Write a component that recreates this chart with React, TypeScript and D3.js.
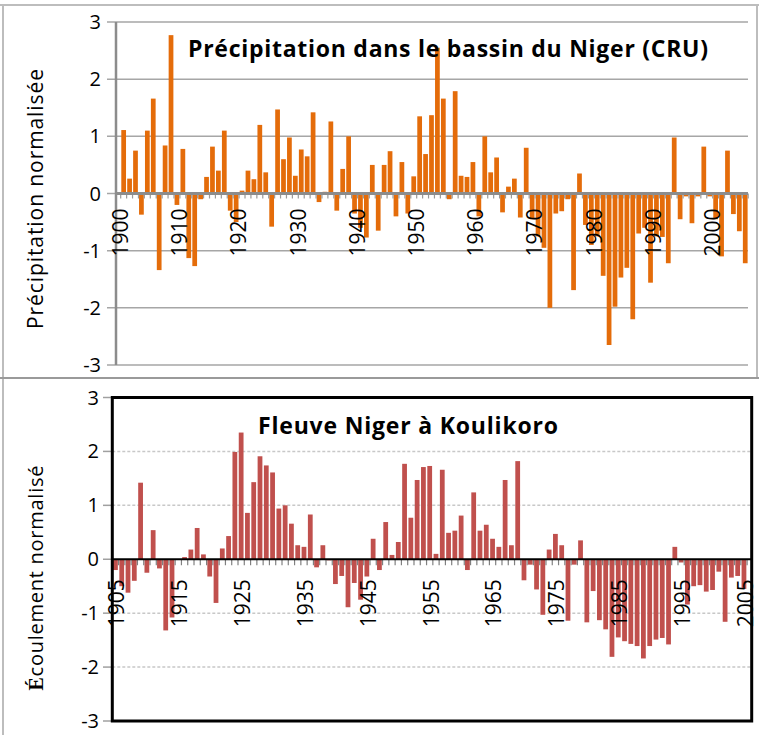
import React from 'react';
import * as d3 from 'd3';

// ---------- DATA ----------
const precipStartYear = 1900;
const precipValues = [
  1.11, 0.26, 0.75, -0.37, 1.10, 1.66, -1.34, 0.84, 2.77, -0.2,
  0.78, -1.13, -1.27, -0.1, 0.29, 0.82, 0.40, 1.10, -0.3, -0.5,
  0.05, 0.40, 0.25, 1.20, 0.37, -0.58, 1.47, 0.60, 0.98, 0.31,
  0.77, 0.65, 1.42, -0.15, 0.03, 1.26, -0.3, 0.43, 1.0, -0.35,
  -0.6, -0.77, 0.5, -0.65, 0.5, 0.74, -0.4, 0.55, -0.35, 0.3,
  1.35, 0.69, 1.37, 2.55, 1.66, -0.1, 1.79, 0.31, 0.29, 0.55,
  -0.4, 1.0, 0.37, 0.63, -0.33, 0.12, 0.26, -0.42, 0.8, -0.45,
  -0.75, -0.95, -2.0, -0.35, -0.31, -0.1, -1.69, 0.35, -0.55, -0.9,
  -0.75, -1.44, -2.65, -1.98, -1.47, -1.3, -2.2, -0.7, -0.6, -1.56,
  -0.75, -0.76, -1.22, 0.98, -0.45, -0.05, -0.52, -0.05, 0.82, -0.05,
  -0.45, -1.1, 0.75, -0.36, -0.66, -1.22,
];
const precipTickYears = [1900, 1910, 1920, 1930, 1940, 1950, 1960, 1970, 1980, 1990, 2000];

const flowStartYear = 1905;
const flowValues = [
  -0.2, -0.5, -0.62, -0.4, 1.42, -0.25, 0.54, -0.17, -1.32, -1.08,
  0.0, 0.04, 0.18, 0.58, 0.09, -0.32, -0.81, 0.2, 0.43, 1.99,
  2.35, 0.86, 1.43, 1.91, 1.74, 1.61, 0.94, 1.0, 0.66, 0.26,
  0.23, 0.83, -0.15, 0.26, -0.02, -0.46, -0.31, -0.89, -0.44, -0.75,
  -0.32, 0.38, -0.2, 0.69, 0.08, 0.32, 1.77, 0.77, 1.47, 1.71,
  1.73, 0.1, 1.66, 0.49, 0.53, 0.81, -0.2, 1.24, 0.53, 0.64,
  0.38, 0.23, 1.47, 0.26, 1.82, -0.39, -0.1, -0.56, -1.03, 0.18,
  0.47, 0.26, -1.14, -0.1, 0.35, -1.17, -0.59, -1.13, -1.3, -1.81,
  -1.45, -1.52, -1.57, -1.61, -1.84, -1.61, -1.49, -1.46, -1.58, 0.23,
  -0.06, -0.84, -0.5, -0.48, -0.6, -0.57, -0.23, -1.16, -0.34, -0.31,
  -0.55,
];
const flowTickYears = [1905, 1915, 1925, 1935, 1945, 1955, 1965, 1975, 1985, 1995, 2005];

const yTickValues = [3, 2, 1, 0, -1, -2, -3];

const topTitle = 'Précipitation dans le bassin du Niger (CRU)';
const topYTitle = 'Précipitation normalisée';
const bottomTitle = 'Fleuve Niger à Koulikoro';
const bottomYTitleFirst = 'É';
const bottomYTitleRest = 'coulement normalisé';

const FONT = "'Open Sans', 'Liberation Sans', sans-serif";

export default function App() {
  const W = 759;
  const H = 735;

  // ---- top chart scales ----
  const precipYears = precipValues.map((_, i) => precipStartYear + i);
  const xTop = d3.scaleBand<number>().domain(precipYears).range([120.7, 748.2]).padding(0);
  const yTop = d3.scaleLinear().domain([-3, 3]).range([365, 22]);
  const stepTop = xTop.step();

  // ---- bottom chart scales ----
  const flowYears = flowValues.map((_, i) => flowStartYear + i);
  const xBot = d3.scaleBand<number>().domain(flowYears).range([112.3, 747.1]).padding(0);
  const yBot = d3.scaleLinear().domain([-3, 3]).range([721, 397.5]);
  const stepBot = xBot.step();

  const frameLeft = 112.3;
  const frameRight = 751.7;

  return (
    <svg
      width={W}
      height={H}
      viewBox={`0 0 ${W} ${H}`}
      style={{ position: 'absolute', left: 0, top: 0, background: '#fff' }}
      fontFamily={FONT}
    >
      <rect x={0} y={0} width={W} height={H} fill="#fff" />
      {/* outer panel lines */}
      <line x1={0} x2={W} y1={5} y2={5} stroke="#bdbdbd" strokeWidth={2} />
      <line x1={3} x2={3} y1={5} y2={H} stroke="#bdbdbd" strokeWidth={2} />
      <line x1={757} x2={757} y1={5} y2={378} stroke="#bdbdbd" strokeWidth={2} />
      <line x1={0} x2={W} y1={378} y2={378} stroke="#9a9a9a" strokeWidth={2} />

      {/* ================= TOP CHART ================= */}
      {yTickValues.map((t) => (
        <line key={'tg' + t} x1={107} x2={748} y1={yTop(t)} y2={yTop(t)} stroke="#a6a6a6" strokeWidth={1.5} />
      ))}
      {yTickValues.map((t) => (
        <text key={'tl' + t} x={101} y={yTop(t)} dy="0.35em" textAnchor="end" fontSize={20} fill="#000">
          {t}
        </text>
      ))}
      {precipValues.map((v, i) => {
        const yr = precipYears[i];
        const y0 = yTop(0);
        const y1 = yTop(v);
        return (
          <rect
            key={'pb' + yr}
            x={(xTop(yr) as number) + stepTop * 0.1}
            width={stepTop * 0.8}
            y={Math.min(y0, y1)}
            height={Math.abs(y1 - y0)}
            fill="#E46C0A"
          />
        );
      })}
      {/* x ticks */}
      {precipYears.concat([precipStartYear + precipValues.length]).map((yr, i) => {
        const x = 120.7 + i * stepTop;
        return <line key={'ptk' + i} x1={x} x2={x} y1={yTop(0)} y2={yTop(0) + 5} stroke="#9a9a9a" strokeWidth={1.2} />;
      })}
      <line x1={116} x2={748} y1={yTop(0)} y2={yTop(0)} stroke="#8c8c8c" strokeWidth={3} />
      <line x1={116} x2={116} y1={yTop(3)} y2={yTop(-3)} stroke="#8c8c8c" strokeWidth={2.5} />
      {precipTickYears.map((yr) => {
        const cx = (xTop(yr) as number) + stepTop / 2 - 3;
        return (
          <text
            key={'pxl' + yr}
            transform={`translate(${cx},${yTop(0) + 15}) rotate(-90)`}
            dy="0.35em"
            textAnchor="end"
            fontSize={21}
            fill="#000"
          >
            {yr}
          </text>
        );
      })}
      <text x={448} y={57} textAnchor="middle" fontSize={23} fontWeight="bold" fill="#000" textLength={520} lengthAdjust="spacing">
        {topTitle}
      </text>
      <text transform={`translate(36,199) rotate(-90)`} dy="0.35em" textAnchor="middle" fontSize={21} fill="#000" textLength={260} lengthAdjust="spacing">
        {topYTitle}
      </text>

      {/* ================= BOTTOM CHART ================= */}
      {[2, 1, -1, -2].map((t) => (
        <line key={'bg' + t} x1={frameLeft} x2={frameRight} y1={yBot(t)} y2={yBot(t)} stroke="#c8c8c8" strokeWidth={1.5} strokeDasharray="3,2" />
      ))}
      {yTickValues.map((t) => (
        <line key={'btk' + t} x1={103} x2={frameLeft} y1={yBot(t)} y2={yBot(t)} stroke="#a0a0a0" strokeWidth={1.5} />
      ))}
      {yTickValues.map((t) => (
        <text key={'bl' + t} x={99} y={yBot(t)} dy="0.35em" textAnchor="end" fontSize={20} fill="#000">
          {t}
        </text>
      ))}
      {flowValues.map((v, i) => {
        const yr = flowYears[i];
        const y0 = yBot(0);
        const y1 = yBot(v);
        return (
          <rect
            key={'fb' + yr}
            x={(xBot(yr) as number) + stepBot * 0.12}
            width={stepBot * 0.76}
            y={Math.min(y0, y1)}
            height={Math.abs(y1 - y0)}
            fill="#C0504D"
          />
        );
      })}
      {flowYears.concat([flowStartYear + flowValues.length]).map((yr, i) => {
        const x = 112.3 + i * stepBot;
        return <line key={'fxt' + i} x1={x} x2={x} y1={yBot(0)} y2={yBot(0) + 6} stroke="#808080" strokeWidth={1.2} />;
      })}
      <line x1={frameLeft} x2={frameRight} y1={yBot(0)} y2={yBot(0)} stroke="#000" strokeWidth={2} />
      {flowTickYears.map((yr) => {
        const cx = (xBot(yr) as number) + stepBot / 2 + 1.5;
        return (
          <text
            key={'fxl' + yr}
            transform={`translate(${cx},${yBot(0) + 20}) rotate(-90)`}
            dy="0.35em"
            textAnchor="end"
            fontSize={21}
            fill="#000"
          >
            {yr}
          </text>
        );
      })}
      <rect x={frameLeft} y={yBot(3)} width={frameRight - frameLeft} height={yBot(-3) - yBot(3)} fill="none" stroke="#000" strokeWidth={3} />
      <text x={408} y={434} textAnchor="middle" fontSize={23} fontWeight="bold" fill="#000" textLength={300} lengthAdjust="spacing">
        {bottomTitle}
      </text>
      <text transform={`translate(36,578) rotate(-90)`} dy="0.35em" textAnchor="middle" fontSize={20} fill="#000" textLength={225} lengthAdjust="spacing">
        <tspan fontFamily="'Liberation Serif', 'DejaVu Serif', serif" fontWeight="bold">{bottomYTitleFirst}</tspan>
        <tspan>{bottomYTitleRest}</tspan>
      </text>
    </svg>
  );
}
